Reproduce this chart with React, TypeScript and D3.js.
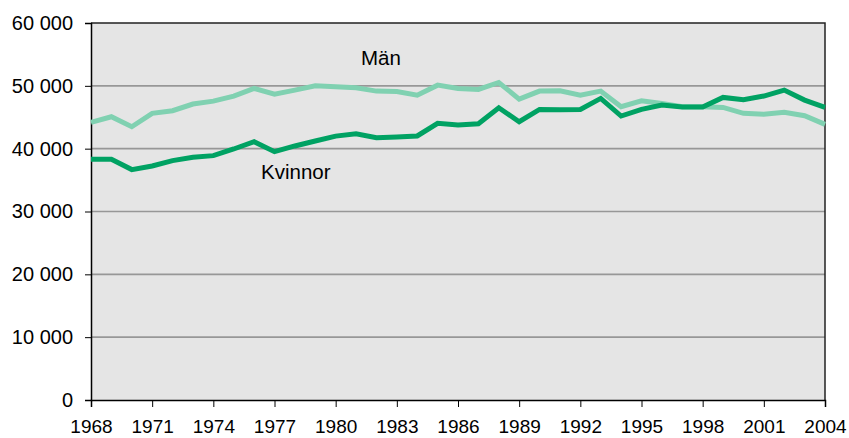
import * as d3 from 'd3';
import { useEffect, useRef } from 'react';

const years = d3.range(1968, 2005);

// Män (light green)
const menValues = [
  44190, 45080, 43490, 45620, 46040, 47100, 47570, 48370, 49580, 48680,
  49320, 50000, 49850, 49690, 49160, 49100, 48520, 50110, 49580, 49420,
  50530, 47890, 49160, 49210, 48520, 49160, 46670, 47620, 47200, 46670,
  46670, 46560, 45620, 45460, 45780, 45240, 43870,
];

// Kvinnor (dark green)
const womenValues = [
  38320, 38320, 36670, 37250, 38100, 38630, 38890, 39950, 41110, 39520,
  40430, 41220, 42000, 42380, 41750, 41860, 42020, 44030, 43760, 43970,
  46510, 44290, 46250, 46190, 46250, 48000, 45190, 46250, 46940, 46620,
  46620, 48160, 47780, 48370, 49320, 47730, 46560,
];

const yTicks = [0, 10000, 20000, 30000, 40000, 50000, 60000];
const xTickLabels = [1968, 1971, 1974, 1977, 1980, 1983, 1986, 1989, 1992, 1995, 1998, 2001, 2004];

const seriesLabels = [
  { name: 'Män', year: 1981.24, value: 53300 },
  { name: 'Kvinnor', year: 1976.34, value: 35170 },
];

const colors = {
  men: '#80D1B1',
  women: '#00A263',
  plotBg: '#E5E5E5',
  grid: '#979797',
};

const width = 849;
const height = 438;
const margin = { top: 23, right: 24, bottom: 38, left: 91 };

// thousands separated by a space, e.g. "60 000"
const formatTick = (v: number) => d3.format(',')(v).replace(/,/g, ' ');

export default function App() {
  const ref = useRef<SVGSVGElement | null>(null);

  useEffect(() => {
    if (!ref.current) return;

    const svg = d3.select(ref.current);
    svg.selectAll('*').remove();

    const x = d3
      .scaleLinear()
      .domain([1968, 2004])
      .range([margin.left, width - margin.right]);
    const y = d3
      .scaleLinear()
      .domain([0, 60000])
      .range([height - margin.bottom, margin.top]);

    const font = 'Liberation Sans, Arial, sans-serif';

    // plot background
    svg
      .append('rect')
      .attr('x', x(1968))
      .attr('y', y(60000))
      .attr('width', x(2004) - x(1968))
      .attr('height', y(0) - y(60000))
      .attr('fill', colors.plotBg);

    // gridlines
    svg
      .append('g')
      .selectAll('line')
      .data(yTicks.filter((t) => t > 0 && t < 60000))
      .join('line')
      .attr('x1', x(1968))
      .attr('x2', x(2004))
      .attr('y1', (d) => y(d))
      .attr('y2', (d) => y(d))
      .attr('stroke', colors.grid)
      .attr('stroke-width', 1.6);

    // top and right border
    svg
      .append('path')
      .attr('d', `M${x(1968)},${y(60000)}H${x(2004)}V${y(0)}`)
      .attr('fill', 'none')
      .attr('stroke', '#222')
      .attr('stroke-width', 1.5);

    // y axis
    const yAxis = svg
      .append('g')
      .attr('transform', `translate(${x(1968)},0)`)
      .call(
        d3
          .axisLeft(y)
          .tickValues(yTicks)
          .tickSize(6)
          .tickPadding(12)
          .tickFormat((d) => formatTick(d as number)),
      );
    yAxis.select('.domain').attr('stroke', '#000').attr('stroke-width', 1.5);
    yAxis.selectAll('.tick line').attr('stroke', '#000');
    yAxis
      .selectAll('.tick text')
      .attr('font-family', font)
      .attr('font-size', 20)
      .attr('fill', '#000');

    // x axis
    const xAxis = svg
      .append('g')
      .attr('transform', `translate(0,${y(0)})`)
      .call(
        d3
          .axisBottom(x)
          .tickValues(xTickLabels)
          .tickSize(7)
          .tickPadding(13)
          .tickFormat((d) => String(d)),
      );
    xAxis.select('.domain').attr('stroke', '#000').attr('stroke-width', 1.5);
    xAxis.selectAll('.tick line').attr('stroke', '#000');
    xAxis
      .selectAll('.tick text')
      .attr('font-family', font)
      .attr('font-size', 19)
      .attr('fill', '#000');

    const line = d3
      .line<number>()
      .x((_, i) => x(years[i]))
      .y((d) => y(d));

    svg
      .append('path')
      .datum(menValues)
      .attr('d', line)
      .attr('fill', 'none')
      .attr('stroke', colors.men)
      .attr('stroke-width', 5)
      .attr('stroke-linejoin', 'miter');

    svg
      .append('path')
      .datum(womenValues)
      .attr('d', line)
      .attr('fill', 'none')
      .attr('stroke', colors.women)
      .attr('stroke-width', 5)
      .attr('stroke-linejoin', 'miter');

    // series labels
    svg
      .append('g')
      .selectAll('text')
      .data(seriesLabels)
      .join('text')
      .attr('x', (d) => x(d.year))
      .attr('y', (d) => y(d.value))
      .attr('font-family', font)
      .attr('font-size', 20.5)
      .attr('fill', '#000')
      .text((d) => d.name);
  }, []);

  return (
    <div style={{ position: 'fixed', left: 0, top: 0, background: '#fff' }}>
      <svg ref={ref} width={width} height={height} style={{ display: 'block' }} />
    </div>
  );
}
